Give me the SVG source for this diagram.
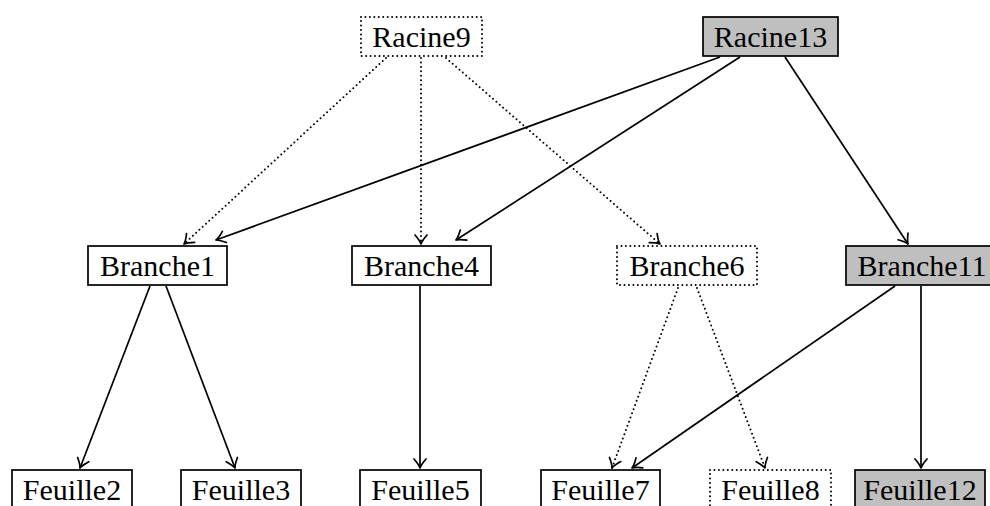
<svg xmlns="http://www.w3.org/2000/svg" width="990" height="506" viewBox="0 0 990 506">
<style>
.b{fill:#fff;stroke:#000;stroke-width:1.7}
.g{fill:#bfbfbf;stroke:#000;stroke-width:1.7}
.d{fill:#fff;stroke:#000;stroke-width:2;stroke-dasharray:0 4.45;stroke-linecap:round}
text{font-family:"Liberation Serif","Times New Roman",serif;font-size:30px;text-anchor:middle;fill:#000}
.s{fill:none;stroke:#000;stroke-width:1.7;marker-end:url(#a)}
.t{fill:none;stroke:#000;stroke-width:2;stroke-dasharray:0 4.45;stroke-linecap:round;marker-end:url(#a)}
</style>
<defs>
<marker id="a" markerWidth="16" markerHeight="16" refX="0" refY="0" viewBox="-12 -8 16 16" orient="auto" markerUnits="userSpaceOnUse">
<path d="M-9,-6 Q-3.5,-1.2 0,0 Q-3.5,1.2 -9,6" fill="none" stroke="#000" stroke-width="1.7" stroke-linecap="round" stroke-linejoin="round"/>
</marker>
</defs>
<g id="connectors">
<line class="t" x1="386" y1="58" x2="184" y2="244"/>
<line class="t" x1="421" y1="58" x2="421" y2="244"/>
<line class="t" x1="446" y1="58" x2="660" y2="244"/>
<line class="s" x1="720" y1="57" x2="216" y2="240"/>
<line class="s" x1="740" y1="57" x2="456" y2="240"/>
<line class="s" x1="785" y1="57" x2="908" y2="244"/>
<line class="s" x1="150" y1="286" x2="80" y2="468"/>
<line class="s" x1="166" y1="286" x2="235" y2="468"/>
<line class="s" x1="420" y1="286" x2="420" y2="468"/>
<line class="t" x1="678" y1="288" x2="612" y2="468"/>
<line class="t" x1="697" y1="288" x2="765" y2="468"/>
<line class="s" x1="895" y1="286" x2="632" y2="468"/>
<line class="s" x1="921" y1="286" x2="921" y2="468"/>
</g>
<g id="Racine9"><rect class="d" x="361" y="17" width="121" height="39"/><text x="421.5" y="47">Racine9</text></g>
<g id="Racine13"><rect class="g" x="703" y="17" width="135" height="39"/><text x="770.5" y="47">Racine13</text></g>
<g id="Branche1"><rect class="b" x="88" y="246" width="139" height="39"/><text x="157.5" y="276">Branche1</text></g>
<g id="Branche4"><rect class="b" x="352" y="246" width="139" height="39"/><text x="421.5" y="276">Branche4</text></g>
<g id="Branche6"><rect class="d" x="617" y="246" width="140" height="39"/><text x="687" y="276">Branche6</text></g>
<g id="Branche11"><rect class="g" x="846" y="246" width="152" height="39"/><text x="922" y="276">Branche11</text></g>
<g id="Feuille2"><rect class="b" x="12" y="470" width="120" height="39"/><text x="72" y="500">Feuille2</text></g>
<g id="Feuille3"><rect class="b" x="181" y="470" width="120" height="39"/><text x="241" y="500">Feuille3</text></g>
<g id="Feuille5"><rect class="b" x="360" y="470" width="121" height="39"/><text x="420.5" y="500">Feuille5</text></g>
<g id="Feuille7"><rect class="b" x="541" y="470" width="119" height="39"/><text x="600.5" y="500">Feuille7</text></g>
<g id="Feuille8"><rect class="d" x="710" y="470" width="121" height="39"/><text x="770.5" y="500">Feuille8</text></g>
<g id="Feuille12"><rect class="g" x="855" y="470" width="130" height="39"/><text x="920" y="500">Feuille12</text></g>
</svg>
